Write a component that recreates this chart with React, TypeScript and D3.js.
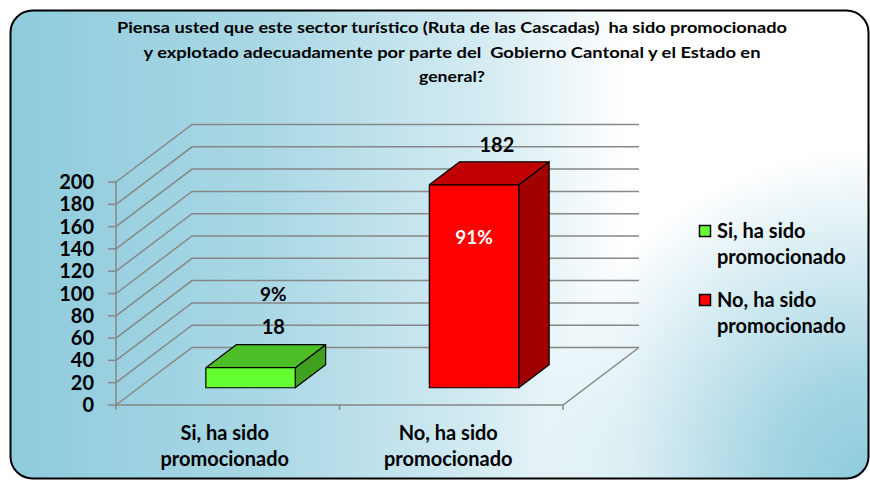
import React from "react";
import * as d3 from "d3";

const titleLines = [
  "Piensa usted que este sector turístico (Ruta de las Cascadas)  ha sido promocionado",
  "y explotado adecuadamente por parte del  Gobierno Cantonal y el Estado en",
  "general?",
];
const titleWidths = [670, 617, 66];

const categories = ["Si, ha sido promocionado", "No, ha sido promocionado"];
const categoryLines = [
  ["Si, ha sido", "promocionado"],
  ["No, ha sido", "promocionado"],
];
const values = [18, 182];
const percents = ["9%", "91%"];
const yTicks = [0, 20, 40, 60, 80, 100, 120, 140, 160, 180, 200];

const frontColors = ["#66ff33", "#ff0000"];
const topColors = ["#4cbf26", "#c00000"];
const sideColors = ["#40a01f", "#a00000"];

const FONT = "Lato, 'Open Sans', sans-serif";
const GRID = "#878787";
// depth offset of the 3d box
const DX = 76;
const DY = 57.5;
const T0 = 0.3;
const T1 = 0.7;

export default function App() {
  const y = d3.scaleLinear().domain([0, 200]).range([405, 182]);
  const x = d3
    .scaleBand<string>()
    .domain(categories)
    .range([116, 563])
    .paddingInner(0.6)
    .paddingOuter(0.3);
  const bw = x.bandwidth();
  const [x0, x1] = x.range();

  const proj = (px: number, v: number, t: number): [number, number] => [
    px + t * DX,
    y(v) - t * DY,
  ];
  const poly = (pts: [number, number][]) =>
    d3.line()(pts.concat([pts[0]])) as string;

  return (
    <svg
      width={870}
      height={480}
      style={{ position: "absolute", left: 0, top: 0, fontFamily: FONT }}
    >
      <defs>
        <linearGradient id="bg" gradientUnits="userSpaceOnUse" x1={10} y1={0} x2={868} y2={0}>
          <stop offset="0" stopColor="#8ecbdc" />
          <stop offset="0.3" stopColor="#aad8e5" />
          <stop offset="0.55" stopColor="#d3ebf2" />
          <stop offset="0.72" stopColor="#ffffff" />
          <stop offset="1" stopColor="#ffffff" />
        </linearGradient>
        <radialGradient id="corner" gradientUnits="userSpaceOnUse" cx={868} cy={478} r={330}>
          <stop offset="0" stopColor="#8ecbdc" stopOpacity={1} />
          <stop offset="0.3" stopColor="#8ecbdc" stopOpacity={0.8} />
          <stop offset="1" stopColor="#8ecbdc" stopOpacity={0} />
        </radialGradient>
      </defs>
      <rect x={0} y={0} width={870} height={480} fill="#ffffff" />
      <rect x={10.5} y={10.5} width={858} height={468} rx={22} fill="url(#bg)" />
      <rect x={10.5} y={10.5} width={858} height={468} rx={22} fill="url(#corner)" />
      <rect x={10.5} y={10.5} width={858} height={468} rx={22} fill="none" stroke="#000" strokeWidth={2} />

      {titleLines.map((l, i) => (
        <text
          key={i}
          x={452}
          y={33 + i * 24.5}
          textAnchor="middle"
          fontSize={16}
          fontWeight="bold"
          textLength={titleWidths[i]}
          lengthAdjust="spacingAndGlyphs"
          style={{ whiteSpace: "pre" }}
        >
          {l}
        </text>
      ))}

      {/* gridlines: side wall diagonal + back wall */}
      {yTicks.map((v) => {
        const a = proj(x0, v, 0);
        const b = proj(x0, v, 1);
        const c = proj(x1, v, 1);
        return (
          <path
            key={v}
            d={`M${a[0]},${a[1]}L${b[0]},${b[1]}L${c[0]},${c[1]}`}
            fill="none"
            stroke={GRID}
            strokeWidth={1.5}
          />
        );
      })}

      {/* value axis */}
      <line x1={x0} x2={x0} y1={y(200)} y2={y(0)} stroke={GRID} strokeWidth={1.5} />
      {yTicks.map((v) => (
        <g key={v}>
          <line x1={x0 - 8} x2={x0} y1={y(v)} y2={y(v)} stroke={GRID} strokeWidth={1.5} />
          <text x={94} y={y(v) + 7} textAnchor="end" fontSize={20} fontWeight="bold">
            {v}
          </text>
        </g>
      ))}

      {/* floor */}
      <path
        d={`M${x0},${y(0)}L${x1},${y(0)}L${proj(x1, 0, 1).join(",")}`}
        fill="none"
        stroke={GRID}
        strokeWidth={1.5}
      />
      {[x0, (x0 + x1) / 2, x1].map((px, i) => (
        <line key={i} x1={px} x2={px} y1={y(0)} y2={y(0) + 5} stroke={GRID} strokeWidth={1.5} />
      ))}

      {/* bars */}
      {categories.map((c, i) => {
        const l = x(c) as number;
        const r = l + bw;
        const v = values[i];
        const front = poly([proj(l, v, T0), proj(r, v, T0), proj(r, 0, T0), proj(l, 0, T0)]);
        const top = poly([proj(l, v, T0), proj(r, v, T0), proj(r, v, T1), proj(l, v, T1)]);
        const side = poly([proj(r, v, T0), proj(r, v, T1), proj(r, 0, T1), proj(r, 0, T0)]);
        const lbl = proj(l + bw / 2, v, 0.6);
        const frontTop = proj(l + bw / 2, v, T0);
        const inside = y(0) - y(v) > 100;
        return (
          <g key={c}>
            <path d={side} fill={sideColors[i]} stroke="#000" strokeWidth={1.2} strokeLinejoin="round" />
            <path d={top} fill={topColors[i]} stroke="#000" strokeWidth={1.2} strokeLinejoin="round" />
            <path d={front} fill={frontColors[i]} stroke="#000" strokeWidth={1.2} strokeLinejoin="round" />
            <text x={lbl[0]} y={lbl[1] - 16} textAnchor="middle" fontSize={20} fontWeight="bold">
              {v}
            </text>
            {inside ? (
              <text
                x={frontTop[0]}
                y={frontTop[1] + 59}
                textAnchor="middle"
                fontSize={19}
                fontWeight="bold"
                fill="#fff"
              >
                {percents[i]}
              </text>
            ) : (
              <text x={lbl[0]} y={lbl[1] - 49} textAnchor="middle" fontSize={19} fontWeight="bold">
                {percents[i]}
              </text>
            )}
          </g>
        );
      })}

      {/* category labels */}
      {categories.map((c, i) => (
        <g key={c}>
          {categoryLines[i].map((t, j) => (
            <text
              key={j}
              x={(x(c) as number) + bw / 2 - 3}
              y={440 + j * 26}
              textAnchor="middle"
              fontSize={20}
              fontWeight="bold"
            >
              {t}
            </text>
          ))}
        </g>
      ))}

      {/* legend */}
      {categories.map((c, i) => (
        <g key={c} transform={`translate(699, ${225 + i * 69})`}>
          <rect x={0.5} y={0.5} width={11} height={11} fill={frontColors[i]} stroke="#000" strokeWidth={1.5} />
          {categoryLines[i].map((t, j) => (
            <text key={j} x={18} y={13 + j * 25.5} fontSize={20} fontWeight="bold">
              {t}
            </text>
          ))}
        </g>
      ))}
    </svg>
  );
}
